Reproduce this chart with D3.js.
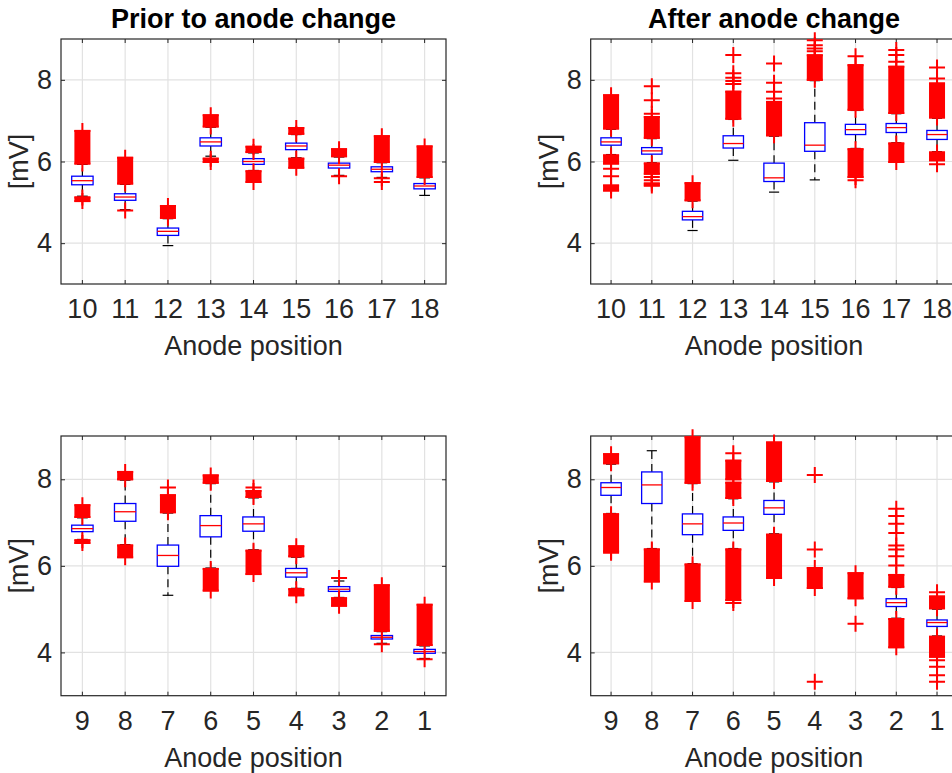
<!DOCTYPE html>
<html>
<head>
<meta charset="utf-8">
<script src="https://cdn.jsdelivr.net/npm/d3@7"></script>
<style>
  html, body { margin: 0; padding: 0; background: #fff; overflow: hidden; }
  svg { display: block; font-family: "Liberation Sans", Arial, Helvetica, sans-serif; }
</style>
</head>
<body>
<svg id="chart" width="952" height="773"></svg>
<script>
// ---------------- data (mV) ----------------
const positionsUpper = [10, 11, 12, 13, 14, 15, 16, 17, 18];
const positionsLower = [9, 8, 7, 6, 5, 4, 3, 2, 1];
const yTicks = [4, 6, 8];
const yDomain = [3, 9];
const titles = ["Prior to anode change", "After anode change"];
const xLabel = "Anode position";
const yLabel = "[mV]";

// Prior to anode change, anodes 10-18
const priorUpperQ1     = [5.43, 5.05, 4.19, 6.38, 5.93, 6.29, 5.84, 5.75, 5.33];
const priorUpperMedian = [5.53, 5.13, 4.29, 6.48, 6.00, 6.38, 5.91, 5.81, 5.40];
const priorUpperQ3     = [5.64, 5.21, 4.37, 6.58, 6.07, 6.45, 5.96, 5.87, 5.46];
const priorUpperLow    = [5.15, 4.82, 3.94, 6.13, 5.78, 6.09, 5.66, 5.61, 5.17];
const priorUpperHigh   = [5.93, 5.44, 4.60, 6.84, 6.21, 6.66, 6.11, 5.97, 5.60];
// dense runs of outliers, [low, high]
const priorUpperBands = [
  [[5.95, 6.75], [5.03, 5.12]],
  [[5.46, 6.09]],
  [[4.62, 4.91]],
  [[6.86, 7.13], [5.99, 6.07]],
  [[6.23, 6.36], [5.50, 5.76]],
  [[6.68, 6.82], [5.85, 6.07]],
  [[6.13, 6.30]],
  [[5.99, 6.62]],
  [[5.62, 6.37]]
];
const priorUpperOutliers = [[], [4.80], [], [], [], [], [5.64], [5.59, 5.50], []];

// After anode change, anodes 10-18
const afterUpperQ1     = [6.40, 6.18, 4.57, 6.33, 5.51, 6.25, 6.66, 6.71, 6.54];
const afterUpperMedian = [6.48, 6.26, 4.65, 6.44, 5.60, 6.40, 6.78, 6.83, 6.66];
const afterUpperQ3     = [6.58, 6.34, 4.78, 6.63, 5.96, 6.95, 6.91, 6.93, 6.76];
const afterUpperLow    = [6.17, 5.97, 4.31, 6.03, 5.25, 5.55, 6.32, 6.46, 6.24];
const afterUpperHigh   = [6.79, 6.56, 5.03, 7.03, 6.62, 7.98, 7.25, 7.17, 7.06];
const afterUpperBands = [
  [[6.81, 7.62], [5.95, 6.15], [5.29, 5.41]],
  [[6.58, 7.09], [5.70, 5.95], [5.41, 5.46]],
  [[5.05, 5.47]],
  [[7.05, 7.71]],
  [[6.64, 7.46]],
  [[8.00, 8.60]],
  [[7.27, 8.36], [5.62, 6.30]],
  [[7.19, 8.32], [5.99, 6.44]],
  [[7.08, 7.91], [6.03, 6.22]]
];
const afterUpperOutliers = [
  [5.82, 5.64],
  [7.84, 7.50, 7.17, 5.62, 5.54],
  [],
  [8.61, 8.16, 8.05, 7.97, 7.90],
  [8.40, 7.93, 7.71, 7.54],
  [8.70, 8.77, 8.85, 8.97],
  [8.58, 5.54],
  [8.73, 8.61, 8.44],
  [8.30, 8.03, 5.93]
];

// Prior to anode change, anodes 9-1
const priorLowerQ1     = [6.79, 7.03, 5.99, 6.67, 6.80, 5.74, 5.41, 4.31, 3.98];
const priorLowerMedian = [6.86, 7.25, 6.24, 6.93, 6.97, 5.84, 5.46, 4.35, 4.02];
const priorLowerQ3     = [6.94, 7.44, 6.48, 7.16, 7.13, 5.94, 5.52, 4.39, 4.07];
const priorLowerLow    = [6.61, 6.49, 5.32, 5.95, 6.37, 5.48, 5.27, 4.21, 3.86];
const priorLowerHigh   = [7.11, 7.98, 7.22, 7.90, 7.57, 6.20, 5.65, 4.48, 4.15];
const priorLowerBands = [
  [[7.13, 7.40], [6.53, 6.59]],
  [[8.00, 8.17], [6.20, 6.47]],
  [[7.24, 7.63]],
  [[7.92, 8.09], [5.43, 5.93]],
  [[7.59, 7.73], [5.81, 6.35]],
  [[6.22, 6.45], [5.32, 5.46]],
  [[5.08, 5.25]],
  [[4.50, 5.55]],
  [[4.17, 5.10]]
];
const priorLowerOutliers = [[], [], [7.81], [], [7.81], [], [5.72], [4.19], [3.84]];

// After anode change, anodes 9-1 (anodes 4 and 3: box hidden by outlier runs)
const afterLowerQ1     = [7.63, 7.44, 6.72, 6.82, 7.19, null, null, 5.06, 4.60];
const afterLowerMedian = [7.81, 7.87, 6.97, 6.99, 7.34, null, null, 5.15, 4.69];
const afterLowerQ3     = [7.92, 8.17, 7.20, 7.13, 7.51, null, null, 5.24, 4.75];
const afterLowerLow    = [7.21, 6.40, 6.05, 6.40, 6.74, null, null, 4.79, 4.38];
const afterLowerHigh   = [8.35, 8.66, 7.90, 7.55, 7.94, null, null, 5.50, 5.00];
const afterLowerBands = [
  [[8.37, 8.58], [6.34, 7.19]],
  [[5.64, 6.38]],
  [[7.92, 8.97], [5.19, 6.03]],
  [[7.57, 7.92], [8.00, 8.43], [5.21, 6.38]],
  [[7.96, 8.85], [5.72, 6.72]],
  [[5.49, 5.95]],
  [[5.25, 5.83]],
  [[5.52, 5.79], [4.12, 4.77]],
  [[5.02, 5.29], [3.90, 4.36]]
];
const afterLowerOutliers = [
  [6.30],
  [],
  [],
  [8.60, 5.14],
  [],
  [8.10, 6.38, 3.32],
  [4.66],
  [7.32, 7.15, 6.97, 6.76, 6.47, 6.38, 6.22, 6.01],
  [5.39, 3.82, 3.67, 3.47, 3.32]
];

// ---------------- assembly ----------------
function makeBoxes(positions, q1, med, q3, lo, hi, bands, outliers) {
  return positions.map((p, i) => ({
    pos: p, q1: q1[i], median: med[i], q3: q3[i], low: lo[i], high: hi[i],
    bands: bands[i], outliers: outliers[i]
  }));
}

const panels = [
  { title: titles[0], positions: positionsUpper, left: 61, right: 446, top: 39, bottom: 284,
    boxes: makeBoxes(positionsUpper, priorUpperQ1, priorUpperMedian, priorUpperQ3, priorUpperLow, priorUpperHigh, priorUpperBands, priorUpperOutliers) },
  { title: titles[1], positions: positionsUpper, left: 590.7, right: 957.4, top: 39, bottom: 284,
    boxes: makeBoxes(positionsUpper, afterUpperQ1, afterUpperMedian, afterUpperQ3, afterUpperLow, afterUpperHigh, afterUpperBands, afterUpperOutliers) },
  { title: null, positions: positionsLower, left: 61, right: 446, top: 436, bottom: 695.7,
    boxes: makeBoxes(positionsLower, priorLowerQ1, priorLowerMedian, priorLowerQ3, priorLowerLow, priorLowerHigh, priorLowerBands, priorLowerOutliers) },
  { title: null, positions: positionsLower, left: 590.7, right: 957.4, top: 436, bottom: 695.7,
    boxes: makeBoxes(positionsLower, afterLowerQ1, afterLowerMedian, afterLowerQ3, afterLowerLow, afterLowerHigh, afterLowerBands, afterLowerOutliers) }
];

// ---------------- drawing ----------------
const svg = d3.select("#chart");
const TEXT = "#262626";
const GRID = "#e2e2e2";
const FONT = 27;
const MARK = 8;          // half-size of a "+" marker, px
const plusPath = `M${-MARK},0H${MARK}M0,${-MARK}V${MARK}`;

function styleAxis(sel) {
  sel.attr("font-size", FONT).attr("font-family", null);
  sel.select(".domain").remove();
  sel.selectAll(".tick line").attr("stroke", TEXT).attr("stroke-width", 1);
  sel.selectAll(".tick text").attr("fill", TEXT);
}

function drawPanel(p) {
  const g = svg.append("g");
  const x = d3.scaleBand().domain(p.positions).range([p.left, p.right]).padding(0);
  const y = d3.scaleLinear().domain(yDomain).range([p.bottom, p.top]);
  const step = x.step();
  const cx = d => x(d) + step / 2;

  // grid
  g.append("g").selectAll("line").data(p.positions).join("line")
    .attr("x1", cx).attr("x2", cx).attr("y1", p.top).attr("y2", p.bottom)
    .attr("stroke", GRID).attr("stroke-width", 1.2);
  g.append("g").selectAll("line").data(yTicks).join("line")
    .attr("x1", p.left).attr("x2", p.right).attr("y1", y).attr("y2", y)
    .attr("stroke", GRID).attr("stroke-width", 1.2);

  // axes with inward ticks on all four sides
  const xb = g.append("g").attr("transform", `translate(0,${p.bottom})`)
    .call(d3.axisBottom(x).tickSizeInner(-4).tickSizeOuter(0));
  styleAxis(xb);
  xb.selectAll(".tick text").attr("y", 34).attr("dy", null);

  const xt = g.append("g").attr("transform", `translate(0,${p.top})`)
    .call(d3.axisTop(x).tickSizeInner(-4).tickSizeOuter(0).tickFormat(""));
  styleAxis(xt);

  const yl = g.append("g").attr("transform", `translate(${p.left},0)`)
    .call(d3.axisLeft(y).tickValues(yTicks).tickFormat(d3.format("d"))
      .tickSizeInner(-4).tickSizeOuter(0).tickPadding(9));
  styleAxis(yl);

  const yr = g.append("g").attr("transform", `translate(${p.right},0)`)
    .call(d3.axisRight(y).tickValues(yTicks).tickSizeInner(-4).tickSizeOuter(0).tickFormat(""));
  styleAxis(yr);

  g.append("rect")
    .attr("x", p.left).attr("y", p.top)
    .attr("width", p.right - p.left).attr("height", p.bottom - p.top)
    .attr("fill", "none").attr("stroke", TEXT).attr("stroke-width", 1.2);

  // boxes
  const boxG = g.append("g").selectAll("g")
    .data(p.boxes.filter(b => b.q1 != null)).join("g");

  boxG.append("line")
    .attr("x1", d => cx(d.pos)).attr("x2", d => cx(d.pos))
    .attr("y1", d => y(d.q3)).attr("y2", d => y(d.high))
    .attr("stroke", "#000").attr("stroke-width", 1.2).attr("stroke-dasharray", "8,5");
  boxG.append("line")
    .attr("x1", d => cx(d.pos)).attr("x2", d => cx(d.pos))
    .attr("y1", d => y(d.q1)).attr("y2", d => y(d.low))
    .attr("stroke", "#000").attr("stroke-width", 1.2).attr("stroke-dasharray", "8,5");
  boxG.append("line")
    .attr("x1", d => cx(d.pos) - step / 8).attr("x2", d => cx(d.pos) + step / 8)
    .attr("y1", d => y(d.high)).attr("y2", d => y(d.high))
    .attr("stroke", "#000").attr("stroke-width", 1.2);
  boxG.append("line")
    .attr("x1", d => cx(d.pos) - step / 8).attr("x2", d => cx(d.pos) + step / 8)
    .attr("y1", d => y(d.low)).attr("y2", d => y(d.low))
    .attr("stroke", "#000").attr("stroke-width", 1.2);
  boxG.append("rect")
    .attr("x", d => cx(d.pos) - step / 4).attr("width", step / 2)
    .attr("y", d => y(d.q3)).attr("height", d => y(d.q1) - y(d.q3))
    .attr("fill", "#fff").attr("stroke", "#0000ff").attr("stroke-width", 1.3);
  boxG.append("line")
    .attr("x1", d => cx(d.pos) - step / 4).attr("x2", d => cx(d.pos) + step / 4)
    .attr("y1", d => y(d.median)).attr("y2", d => y(d.median))
    .attr("stroke", "#ff0000").attr("stroke-width", 1.3);

  // outliers: dense runs and single "+" markers
  const bandData = p.boxes.flatMap(b => b.bands.map(([lo, hi]) => ({ pos: b.pos, lo, hi })));
  g.append("g").selectAll("rect").data(bandData).join("rect")
    .attr("x", d => cx(d.pos) - MARK).attr("width", 2 * MARK)
    .attr("y", d => y(d.hi) - 1).attr("height", d => y(d.lo) - y(d.hi) + 2)
    .attr("fill", "#ff0000");

  const markerData = p.boxes.flatMap(b => [
    ...b.bands.flatMap(([lo, hi]) => [{ pos: b.pos, v: lo }, { pos: b.pos, v: hi }]),
    ...b.outliers.map(v => ({ pos: b.pos, v }))
  ]);
  g.append("g").selectAll("path").data(markerData).join("path")
    .attr("d", plusPath)
    .attr("transform", d => `translate(${cx(d.pos)},${y(d.v)})`)
    .attr("fill", "none").attr("stroke", "#ff0000").attr("stroke-width", 2);

  // labels
  const mid = (p.left + p.right) / 2;
  if (p.title) {
    g.append("text").attr("x", mid).attr("y", 28)
      .attr("text-anchor", "middle").attr("font-size", 27).attr("font-weight", "bold")
      .attr("fill", "#000").text(p.title);
  }
  g.append("text").attr("x", mid).attr("y", p.bottom + 71)
    .attr("text-anchor", "middle").attr("font-size", FONT).attr("fill", TEXT).text(xLabel);
  g.append("text")
    .attr("transform", `translate(${p.left - 33},${(p.top + p.bottom) / 2}) rotate(-90)`)
    .attr("text-anchor", "middle").attr("font-size", FONT).attr("fill", TEXT).text(yLabel);
}

panels.forEach(drawPanel);
</script>
</body>
</html>
